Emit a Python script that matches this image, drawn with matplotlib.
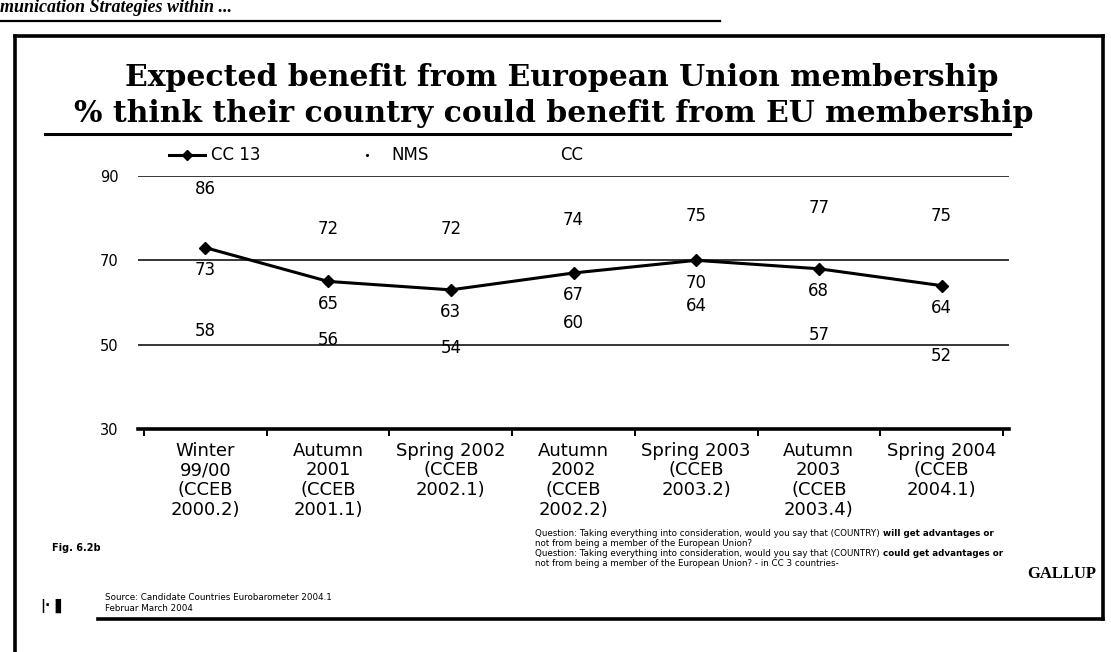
import matplotlib
matplotlib.use("Agg")
import matplotlib.pyplot as plt
from matplotlib.lines import Line2D
import numpy as np

categories = [
    "Winter\n99/00\n(CCEB\n2000.2)",
    "Autumn\n2001\n(CCEB\n2001.1)",
    "Spring 2002\n(CCEB\n2002.1)",
    "Autumn\n2002\n(CCEB\n2002.2)",
    "Spring 2003\n(CCEB\n2003.2)",
    "Autumn\n2003\n(CCEB\n2003.4)",
    "Spring 2004\n(CCEB\n2004.1)",
]
cc13 = [73, 65, 63, 67, 70, 68, 64]
nms = [86, 72, 72, 74, 75, 77, 75]
cc = [58, 56, 54, 60, 64, 57, 52]
yticks = [30, 50, 70, 90]

plt.rcParams['font.family'] = ['DejaVu Sans']

W, H = 1111, 652
fig = plt.figure(figsize=(W / 100, H / 100), dpi=100)


def fx(px):
    return px / W


def fy(py):
    return 1 - py / H


ax = fig.add_axes([fx(138), fy(429), fx(1009) - fx(138), fy(176) - fy(429)])

x = np.arange(len(categories))
ax.plot(x, cc13, color='black', lw=2.2, marker='D', ms=6.5, label='CC 13', zorder=3)
ax.plot(x, nms, lw=0, alpha=0, label='NMS')
ax.plot(x, cc, lw=0, alpha=0, label='CC')

lab_fs = 12
for xi, v in zip(x, cc13):
    ax.text(xi, v - 5.3, str(v), ha='center', va='center', fontsize=lab_fs)
for xi, v in zip(x, nms):
    ax.text(xi, min(v + 5.5, 87.0), str(v), ha='center', va='center', fontsize=lab_fs)
for xi, v in zip(x, cc):
    ax.text(xi, v - 4.8, str(v), ha='center', va='center', fontsize=lab_fs)

ax.set_ylim(30, 90)
ax.set_xlim(-0.55, 6.55)
ax.set_yticks(yticks)
ax.set_yticklabels([str(t) for t in yticks], fontsize=10.5)
ax.tick_params(axis='y', length=0, pad=14)
for t in yticks[1:]:
    ax.axhline(t, color='black', lw=1.1, zorder=1)
for s in ['top', 'right', 'left']:
    ax.spines[s].set_visible(False)
ax.spines['bottom'].set_linewidth(2.6)
ax.set_xticks(x)
ax.set_xticklabels(categories, fontsize=13, linespacing=1.12, va='top')
ax.tick_params(axis='x', length=0, pad=9)
ax.set_xticks(np.arange(-0.5, len(categories)), minor=True)
ax.tick_params(axis='x', which='minor', length=5, width=1.4, direction='out')

handles = [Line2D([], [], color='black', lw=2.2, marker='D', ms=5.5),
           Line2D([], [], color='black', lw=0, marker='.', ms=2.5),
           Line2D([], [], lw=0)]
ax.legend(handles, ['CC 13', 'NMS', 'CC'], ncol=3, loc='lower left',
          bbox_to_anchor=(0.022, 1.0), frameon=False, fontsize=12,
          handlelength=2.2, columnspacing=5.3, handletextpad=0.35,
          borderpad=0.2)

# Titles
fig.text(fx(562), fy(77), "Expected benefit from European Union membership",
         ha='center', va='center', fontsize=21.5, fontweight='bold',
         family='DejaVu Serif')
fig.text(fx(554), fy(113), "% think their country could benefit from EU membership",
         ha='center', va='center', fontsize=21.5, fontweight='bold',
         family='DejaVu Serif')
fig.add_artist(Line2D([fx(45), fx(1010)], [fy(134), fy(134)], color='black', lw=2.2))

# Slide frame
frame = dict(color='black', lw=2.6)
fig.add_artist(Line2D([fx(15), fx(15)], [fy(652), fy(36)], **frame))
fig.add_artist(Line2D([fx(15), fx(1103)], [fy(36), fy(36)], **frame))
fig.add_artist(Line2D([fx(1103), fx(1103)], [fy(36), fy(619)], **frame))
fig.add_artist(Line2D([fx(98), fx(1103)], [fy(619), fy(619)], **frame))

# Header fragment (cut off at top of the scan)
fig.text(fx(0), fy(8), "munication Strategies within ...", ha='left', va='center',
         fontsize=13, fontweight='bold', style='italic', family='Liberation Serif')
fig.add_artist(Line2D([fx(0), fx(720)], [fy(21), fy(21)], color='black', lw=1.6))

# Footer texts
fig.text(fx(52), fy(548), "Fig. 6.2b", fontsize=7, fontweight='bold', ha='left', va='center')
fig.text(fx(105), fy(603), "Source: Candidate Countries Eurobarometer 2004.1\nFebruar March 2004",
         fontsize=6.3, ha='left', va='center', linespacing=1.25)
fig.text(fx(40), fy(606), "|\u00b7\u2590", fontsize=10, fontweight='bold', ha='left', va='center')

q_fs = 6.3
q_lines = [
    ("Question: Taking everything into consideration, would you say that (COUNTRY)", "will get advantages or"),
    ("not from being a member of the European Union?", ""),
    ("Question: Taking everything into consideration, would you say that (COUNTRY)", "could get advantages or"),
    ("not from being a member of the European Union? - in CC 3 countries-", ""),
]
plain_texts = []
for i, (plain, bold) in enumerate(q_lines):
    t = fig.text(fx(535), fy(536 + i * 10), plain, fontsize=q_fs, ha='left', va='baseline')
    plain_texts.append(t)
fig.canvas.draw()
for i, (plain, bold) in enumerate(q_lines):
    if bold:
        bb = plain_texts[i].get_window_extent()
        fig.text(fx(bb.x1 + 3), fy(536 + i * 10), bold, fontsize=q_fs,
                 fontweight='bold', ha='left', va='baseline')

fig.text(fx(1096), fy(574), "GALLUP", fontsize=12, fontweight='bold',
         family='Liberation Serif', ha='right', va='center')

fig.savefig("out.png", dpi=100)
